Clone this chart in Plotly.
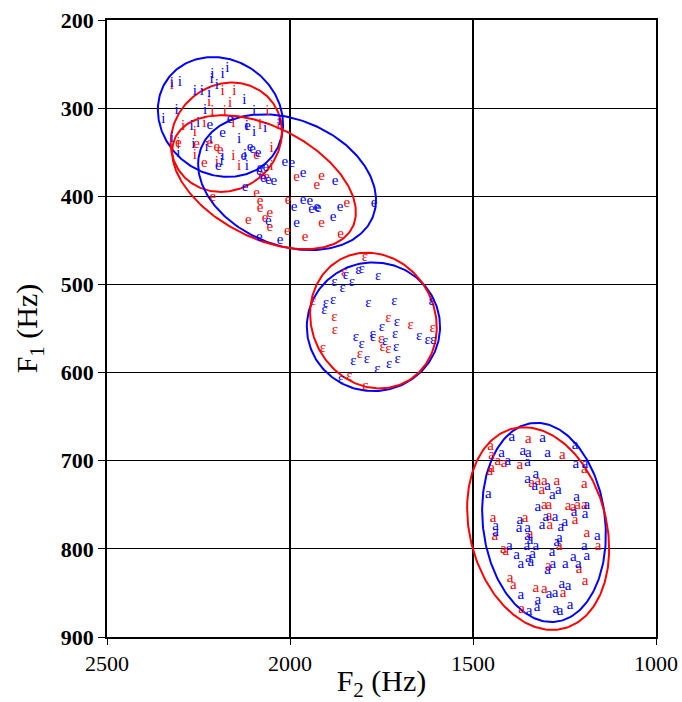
import numpy as np
import plotly.graph_objects as go

# ---------------- token data (F2, F1 in Hz) ----------------
# vowel /i/
i_blue_f2 = [2171, 2184, 2212, 2214, 2301, 2323, 2200, 2260, 2241, 2221, 2125, 2232, 2098, 2346, 2310, 2029,
             2269, 2251, 2118, 2068, 2098, 2323, 2216, 2264, 2228, 2139, 2184, 2123, 2118, 2187, 2305]
i_blue_f1 = [255, 262, 261, 267, 271, 272, 274, 281, 281, 283, 291, 302, 303, 313, 302, 315,
             320, 317, 320, 323, 327, 334, 335, 341, 344, 335, 355, 354, 366, 360, 351]
i_red_f2 = [2323, 2184, 2152, 2221, 2212, 2164, 2178, 2062, 2292, 2234, 2155, 2082, 2032, 2305, 2260, 2050,
            2260, 2155, 2200, 2139, 2050]
i_red_f1 = [274, 281, 281, 293, 303, 295, 304, 303, 320, 317, 317, 319, 319, 340, 327, 346,
            354, 355, 361, 366, 366]

# vowel /e/
e_blue_f2 = [2219, 2164, 2116, 2184, 2109, 2102, 2087, 2196, 2082, 2066, 2014, 2126, 1995, 2084, 2073, 2059,
             2044, 2123, 1964, 1964, 1946, 1927, 1989, 1982, 2027, 2084, 1877, 1923, 1941, 1863, 1882, 1770, 2059]
e_blue_f1 = [319, 313, 321, 328, 344, 347, 351, 366, 368, 367, 361, 355, 363, 372, 380, 382,
             383, 390, 374, 404, 406, 412, 412, 431, 450, 446, 383, 414, 415, 413, 424, 408, 428]
e_red_f2 = [2305, 2255, 2200, 2191, 2234, 2091, 2077, 2064, 2219, 1982, 2091, 2211, 2082, 2082, 2068, 2055,
            2114, 2007, 1959, 2005, 1927, 1914, 1845, 2055, 1914, 1862]
e_red_f1 = [340, 341, 344, 348, 363, 354, 376, 378, 340, 378, 397, 401, 406, 414, 425, 435,
            427, 440, 446, 404, 387, 377, 408, 419, 431, 443]

# vowel /ɛ/
eps_blue_f2 = [1804, 1813, 1847, 1759, 1879, 1831, 1856, 1902, 1906, 1882, 1786, 1715, 1613, 1708, 1749, 1774,
               1773, 1820, 1804, 1740, 1713, 1647, 1624, 1609, 1710, 1827, 1790, 1706, 1729, 1761, 1861]
eps_blue_f1 = [483, 484, 490, 491, 498, 498, 504, 521, 529, 518, 521, 519, 519, 543, 549, 557,
               560, 560, 568, 564, 557, 559, 563, 563, 571, 587, 585, 585, 591, 596, 608]
eps_red_f2 = [1795, 1852, 1937, 1879, 1877, 1731, 1670, 1610, 1751, 1747, 1731, 1910, 1809, 1838, 1794]
eps_red_f1 = [469, 486, 519, 537, 552, 538, 546, 550, 562, 571, 573, 572, 579, 604, 615]

# vowel /a/
a_blue_f2 = [1394, 1310, 1221, 1422, 1364, 1349, 1296, 1405, 1351, 1219, 1194, 1328, 1351, 1331, 1296, 1283,
             1267, 1458, 1217, 1323, 1189, 1224, 1194, 1276, 1301, 1372, 1249, 1438, 1374, 1351, 1311, 1260,
             1438, 1351, 1344, 1264, 1160, 1401, 1353, 1328, 1271, 1196, 1381, 1349, 1337, 1284, 1226, 1189,
             1369, 1342, 1282, 1248, 1212, 1296, 1257, 1240, 1369, 1292, 1276, 1323, 1325, 1235, 1347, 1274, 1262]
a_blue_f1 = [673, 675, 682, 691, 689, 692, 691, 701, 702, 704, 704, 715, 721, 729, 729, 739,
             733, 738, 741, 753, 751, 759, 761, 764, 764, 767, 770, 774, 777, 777, 773, 776,
             781, 786, 790, 788, 786, 797, 797, 797, 793, 797, 807, 811, 806, 804, 810, 808,
             817, 815, 818, 818, 818, 824, 840, 842, 853, 851, 850, 858, 866, 864, 871, 869, 871]
a_red_f2 = [1349, 1452, 1256, 1449, 1432, 1415, 1372, 1449, 1454, 1196, 1340, 1323, 1305, 1271, 1312, 1196,
            1305, 1293, 1240, 1226, 1214, 1196, 1292, 1221, 1290, 1358, 1445, 1440, 1344, 1189, 1158, 1417,
            1410, 1264, 1294, 1210, 1399, 1390, 1328, 1305, 1254, 1194, 1367]
a_red_f1 = [676, 684, 694, 694, 701, 703, 705, 709, 712, 710, 725, 723, 723, 723, 733, 727,
            751, 751, 752, 753, 750, 750, 763, 767, 773, 765, 765, 786, 783, 782, 797, 801,
            803, 797, 820, 823, 833, 841, 845, 846, 850, 837, 868]

# ---------------- ellipse parameters (Hz) ----------------
ell_vowel = ["i", "i", "e", "e", "ɛ", "ɛ", "a", "a"]
ell_group = ["blue", "red", "blue", "red", "blue", "red", "blue", "red"]
ell_cx = [2190, 2174, 2008, 2071, 1772, 1772, 1306, 1322]     # centre F2
ell_cy = [310, 333, 384, 384, 548, 541, 770, 777]             # centre F1
ell_ax = [171, 152, 243, 251, 182, 173, 169, 194]             # half extent along F2
ell_ay = [68, 62, 77, 76, 73, 77, 113, 115]                   # half extent along F1
ell_rho = [-0.12, 0.1, -0.265, -0.45, 0.0, -0.1, -0.12, -0.2]  # F2/F1 correlation

COLORS = {"blue": "#0000ff", "red": "#ff0000"}
SERIF = "Liberation Serif"

fig = go.Figure()

# ellipses
t = np.linspace(0, 2 * np.pi, 241)
for v, g, cx, cy, ax_, ay_, r in zip(ell_vowel, ell_group, ell_cx, ell_cy, ell_ax, ell_ay, ell_rho):
    ex = cx + ax_ * np.cos(t)
    ey = cy + ay_ * (r * np.cos(t) + np.sqrt(1 - r * r) * np.sin(t))
    fig.add_trace(go.Scatter(x=ex, y=ey, mode="lines", line=dict(color=COLORS[g], width=2),
                             hoverinfo="skip", showlegend=False))

tokens = [
    ("i", "red", i_red_f2, i_red_f1), ("i", "blue", i_blue_f2, i_blue_f1),
    ("e", "red", e_red_f2, e_red_f1), ("e", "blue", e_blue_f2, e_blue_f1),
    ("ɛ", "red", eps_red_f2, eps_red_f1), ("ɛ", "blue", eps_blue_f2, eps_blue_f1),
    ("a", "red", a_red_f2, a_red_f1), ("a", "blue", a_blue_f2, a_blue_f1),
]
for sym, g, xs, ys in tokens:
    fig.add_trace(go.Scatter(x=xs, y=ys, mode="text", text=[sym] * len(xs),
                             textposition="middle center",
                             textfont=dict(family=SERIF, size=15, color=COLORS[g]),
                             hoverinfo="skip", showlegend=False, cliponaxis=False))

x_ticks = [2500, 2000, 1500, 1000]
y_ticks = [200, 300, 400, 500, 600, 700, 800, 900]

fig.update_layout(
    width=682, height=702,
    margin=dict(l=107, r=26, t=20, b=65, autoexpand=False),
    paper_bgcolor="white", plot_bgcolor="white",
    font=dict(family=SERIF, color="black"),
    xaxis=dict(range=[2500, 1000], tickvals=x_ticks, ticktext=[str(v) for v in x_ticks],
               automargin=False, ticklabeloverflow="allow",
               showgrid=True, gridcolor="black", gridwidth=2,
               ticks="outside", ticklen=6, tickcolor="black", tickwidth=1,
               showline=True, linecolor="black", linewidth=1.5, mirror=True, zeroline=False,
               tickfont=dict(family=SERIF, size=22, color="black"),
               title=dict(text="F<sub>2</sub> (Hz)", font=dict(family=SERIF, size=30, color="black"),
                          standoff=0)),
    yaxis=dict(range=[900, 200], tickvals=y_ticks, ticktext=["<b>%d</b>" % v for v in y_ticks],
               automargin=False, ticklabeloverflow="allow",
               showgrid=True, gridcolor="black", gridwidth=1,
               ticks="outside", ticklen=7, tickcolor="black", tickwidth=1,
               showline=True, linecolor="black", linewidth=1.5, mirror=True, zeroline=False,
               tickfont=dict(family=SERIF, size=22, color="black"),
               title=dict(text="F<sub>1</sub> (Hz)", font=dict(family=SERIF, size=30, color="black"),
                          standoff=14)),
)

# remove the browser's default 8px page margin so the figure fills the window exactly
fig.write_html("out.html",
               config={"displayModeBar": False},
               post_script="document.body.style.margin='0';document.body.style.overflow='hidden';")
